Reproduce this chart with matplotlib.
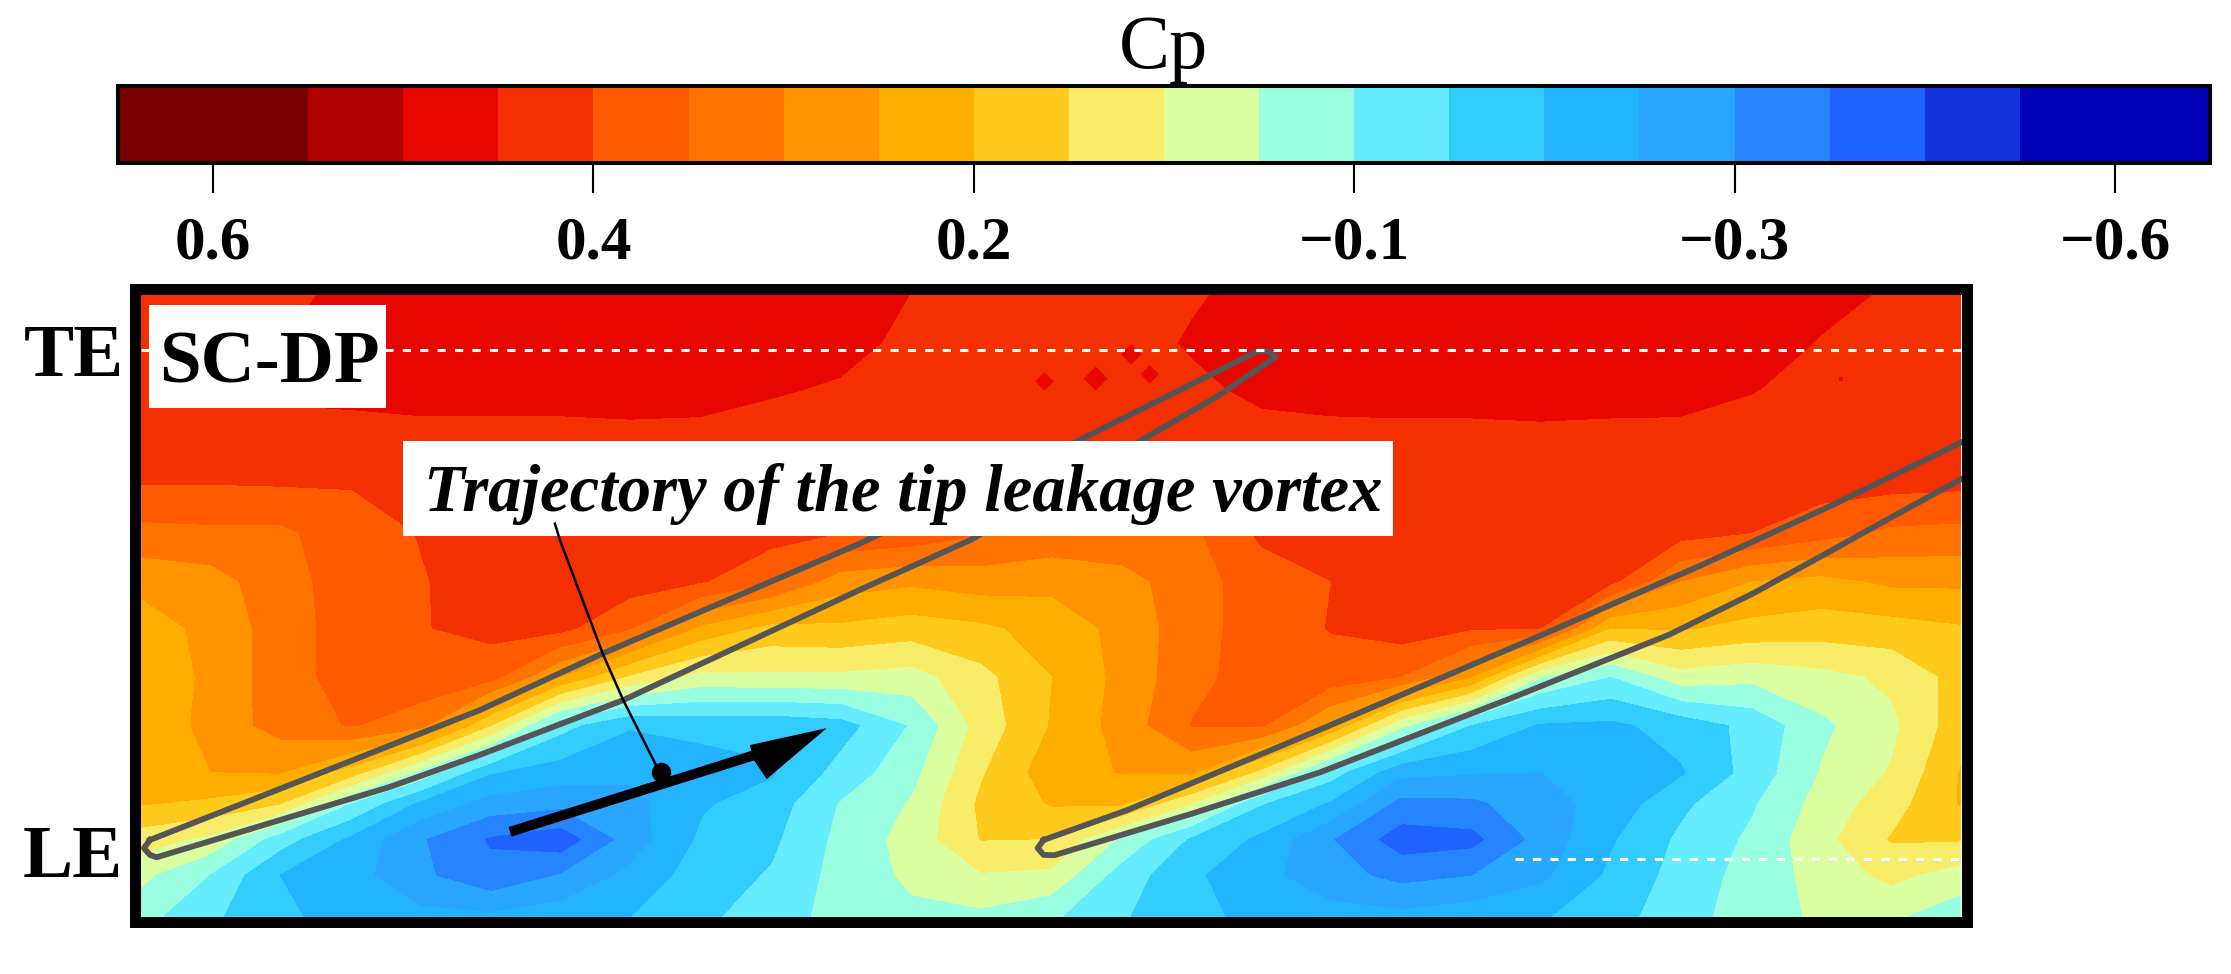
import matplotlib
matplotlib.use('Agg')
import matplotlib.pyplot as plt
from matplotlib.patches import Rectangle
import numpy as np

plt.rcParams['font.family'] = ['Liberation Serif', 'DejaVu Serif']

W, H = 2231, 974

# colour scale, positions along the bar (first and last band are double width)
band_edges = [0, 2, 3, 4, 5, 6, 7, 8, 9, 10, 11, 12, 13, 14, 15, 16, 17, 18, 19, 20, 22]
band_colors = ['#7a0000', '#b00000', '#e80600', '#f53000', '#ff5a00', '#ff7400', '#ff9300',
               '#ffae00', '#ffca1c', '#f8ec68', '#d9ffa0', '#99ffe0', '#66ecff', '#33ccff',
               '#24b4ff', '#29a6ff', '#2684ff', '#1f62ff', '#1232dc', '#0000b8']
tick_pos = [1, 5, 9, 13, 17, 21]
tick_labels = ['0.6', '0.4', '0.2', '\u22120.1', '\u22120.3', '\u22120.6']

# field, each value is a position on the colour bar
x_nodes = [99, 148, 197, 247, 296, 345, 394, 443, 493, 542, 591, 640, 689, 739, 788, 837, 886,
           935, 985, 1034, 1083, 1132, 1181, 1231, 1280, 1329, 1378]
y_nodes = [207, 241, 274, 308, 341, 375, 409, 442, 476, 510, 543, 565, 590, 615, 644]
columns = [
    [4.2, 4.3, 4.4, 4.6, 5.0, 6.3, 7.7, 8.5, 9.0, 8.9, 8.6, 8.9, 10.5, 11.7, 12.6],
    [4.3, 4.4, 4.4, 4.5, 5.0, 6.2, 7.4, 7.7, 7.7, 7.6, 8.0, 9.2, 11.2, 13.0, 13.8],
    [4.2, 4.0, 3.8, 4.4, 4.95, 6.2, 6.4, 6.5, 6.5, 6.6, 7.9, 9.9, 13.5, 15.0, 14.8],
    [3.8, 3.3, 3.7, 4.4, 4.95, 5.4, 5.5, 5.5, 5.5, 5.9, 9.4, 13.0, 15.2, 15.6, 15.4],
    [3.5, 3.3, 3.5, 4.4, 4.6, 4.95, 5.05, 5.05, 5.3, 6.6, 12.2, 15.2, 16.9, 16.8, 15.7],
    [3.4, 3.3, 3.5, 4.4, 4.5, 4.6, 4.6, 4.7, 5.6, 9.9, 14.9, 16.4, 18.1, 17.7, 15.8],
    [3.4, 3.3, 3.5, 4.4, 4.4, 4.4, 4.5, 4.7, 8.0, 13.6, 15.5, 16.7, 18.6, 16.9, 15.4],
    [3.4, 3.3, 3.5, 4.3, 4.3, 4.3, 4.5, 5.9, 10.1, 14.9, 15.8, 16.3, 16.5, 15.7, 15.0],
    [3.4, 3.4, 3.6, 4.3, 4.3, 4.4, 4.9, 8.2, 11.3, 14.6, 15.6, 15.1, 14.8, 14.5, 14.2],
    [3.4, 3.4, 3.9, 4.4, 4.4, 4.6, 5.8, 9.3, 11.2, 14.7, 15.1, 14.5, 14.2, 13.9, 13.5],
    [3.5, 3.7, 4.1, 4.4, 4.6, 5.0, 7.5, 9.2, 11.2, 14.4, 13.6, 12.9, 12.7, 12.6, 12.6],
    [4.0, 4.2, 4.3, 4.4, 4.7, 5.3, 7.8, 9.5, 11.4, 12.9, 12.3, 11.9, 11.6, 11.8, 12.2],
    [4.3, 4.3, 4.4, 4.5, 4.8, 5.9, 7.5, 9.2, 10.3, 10.6, 10.1, 9.8, 9.95, 11.05, 12.2],
    [4.4, 4.4, 4.5, 4.6, 4.8, 6.3, 7.7, 8.6, 9.0, 8.9, 8.4, 8.9, 10.0, 11.2, 12.8],
    [4.4, 4.4, 4.4, 4.5, 4.7, 6.2, 7.4, 7.7, 7.7, 7.6, 7.95, 8.8, 12.1, 13.4, 13.9],
    [4.1, 3.9, 4.2, 4.4, 4.6, 6.2, 6.4, 6.4, 6.3, 5.95, 7.8, 10.9, 14.1, 14.8, 14.6],
    [3.7, 3.5, 3.8, 4.3, 4.4, 4.8, 5.5, 5.5, 5.5, 5.8, 10.2, 13.9, 15.2, 15.7, 15.4],
    [3.5, 3.3, 3.5, 4.4, 4.4, 4.5, 5.0, 4.95, 5.4, 8.0, 13.5, 15.1, 16.9, 16.6, 15.6],
    [3.4, 3.3, 3.4, 4.4, 4.3, 4.4, 4.4, 4.5, 6.0, 11.7, 15.7, 17.3, 18.5, 17.3, 15.7],
    [3.4, 3.3, 3.4, 4.4, 4.3, 4.3, 4.4, 4.9, 7.9, 14.0, 15.9, 17.2, 18.3, 17.0, 15.4],
    [3.4, 3.3, 3.4, 4.3, 4.3, 4.3, 4.4, 5.0, 11.9, 15.1, 16.0, 16.4, 16.6, 16.2, 15.1],
    [3.4, 3.3, 3.4, 4.4, 4.3, 4.4, 4.7, 9.0, 13.0, 15.2, 15.7, 15.6, 15.1, 14.8, 14.4],
    [3.4, 3.4, 3.6, 4.3, 4.4, 4.6, 7.0, 8.9, 11.4, 14.6, 15.1, 14.2, 13.8, 13.6, 13.4],
    [3.5, 3.5, 3.95, 4.4, 4.5, 5.0, 8.0, 9.3, 11.7, 13.7, 13.6, 13.1, 12.8, 12.6, 12.5],
    [3.7, 4.05, 4.3, 4.4, 4.6, 5.6, 8.3, 9.5, 11.3, 12.2, 11.9, 11.6, 11.3, 11.6, 11.8],
    [4.1, 4.2, 4.3, 4.4, 4.7, 6.2, 7.8, 9.4, 10.8, 11.2, 10.9, 10.4, 9.9, 10.7, 11.8],
    [4.2, 4.2, 4.3, 4.4, 4.8, 6.3, 7.8, 9.1, 9.6, 9.4, 8.9, 8.9, 9.9, 11.4, 12.6],
]

# blade outlines
blade1_x = [105.4, 213, 337.3, 424, 602, 757, 866.8, 883, 890, 896.8, 855, 801, 683, 604, 438,
            337, 274, 110, 105.4, 101.2, 105.4]
blade1_y = [590.3, 548, 499, 459, 383, 310, 255.3, 247, 246.4, 250.7, 278.8, 310, 379, 414.6,
            492, 530.6, 553, 602.5, 600.8, 596, 590.3]
blade2_x = [733.4, 793, 927, 1084, 1196, 1285.5, 1385, 1385, 1330, 1285, 1232, 1173, 1061, 927,
            837, 741, 733.4, 729.2, 733.4]
blade2_y = [590.3, 569, 513, 446, 397, 356, 307.6, 333, 363, 388, 417, 446, 491, 543, 572, 601,
            600.8, 596, 590.3]

# little red spots near the trailing edge
spot_x = [734, 770, 795, 808]
spot_y = [268, 266, 249, 263]
spot_size = [90, 150, 110, 90]

leader_x = [390, 393.5, 424, 438, 460.3, 464]
leader_y = [368, 379.5, 460.3, 492, 536.3, 542]

shaft_x = [358.4, 529]
shaft_y = [584.6, 531]
head_x = [581, 527, 529, 538.8]
head_y = [511.7, 523.6, 533, 547.5]


def px_box(l, t, r, b):
    return [l / W, 1 - b / H, (r - l) / W, (b - t) / H]


fig = plt.figure(figsize=(W / 100, H / 100), dpi=100)
ax = fig.add_axes(px_box(135, 288.5, 1967, 921.5))
cax = fig.add_axes(px_box(118, 86, 2210, 163))

cp_pos = np.array(columns).T
cf = ax.contourf(x_nodes, y_nodes, cp_pos, levels=band_edges, colors=band_colors, zorder=1)
ax.set_xlim(94.9, 1382.3)
ax.set_ylim(647.6, 202.7)
ax.set_xticks([])
ax.set_yticks([])
for s in ax.spines.values():
    s.set_linewidth(7.9)
    s.set_zorder(10)

ax.scatter(spot_x, spot_y, s=spot_size, marker='D', color=band_colors[2], linewidths=0, zorder=2)
ax.scatter([1293.5], [266], s=8, marker='s', color=band_colors[2], linewidths=0, zorder=2)

ax.plot(blade1_x, blade1_y, color='#555555', lw=4.2, solid_joinstyle='round', zorder=3)
ax.plot(blade2_x, blade2_y, color='#555555', lw=4.2, solid_joinstyle='round', zorder=3)

# TE and LE stations
ax.plot([99, 1378], [246, 246], color='white', lw=2.2, ls=(0, (2.7, 3.0)), zorder=3)
ax.plot([1065, 1378], [604, 604], color='white', lw=2.2, ls=(0, (2.7, 3.0)), zorder=3)

ax.add_patch(Rectangle((104.5, 214), 166.5, 73, fc='white', ec='none', zorder=4))
ax.add_patch(Rectangle((283, 310), 696, 67, fc='white', ec='none', zorder=4))
ax.text(189.5, 269, 'SC-DP', fontsize=54, fontweight='bold', ha='center', va='baseline', zorder=5)
ax.text(635, 359, 'Trajectory of the tip leakage vortex', fontsize=48, fontweight='bold',
        fontstyle='italic', ha='center', va='baseline', zorder=5)

ax.plot(leader_x, leader_y, color='black', lw=1.8, zorder=6)
ax.plot([464.3], [542.3], marker='o', ms=13, color='black', zorder=6)
ax.plot(shaft_x, shaft_y, color='black', lw=7.2, solid_capstyle='butt', zorder=6)
ax.fill(head_x, head_y, color='black', lw=0, zorder=6)

ax.text(52, 264, 'TE', fontsize=54, fontweight='bold', ha='center', va='baseline', clip_on=False)
ax.text(51, 616, 'LE', fontsize=54, fontweight='bold', ha='center', va='baseline', clip_on=False)

cb = fig.colorbar(cf, cax=cax, orientation='horizontal', spacing='proportional', ticks=tick_pos)
cb.ax.set_xticklabels(tick_labels, fontsize=44, fontweight='bold')
cb.ax.tick_params(axis='x', length=21.5, width=1.5, pad=16, color='black')
cb.ax.minorticks_off()
cb.outline.set_linewidth(2.9)
cb.dividers.set_visible(False)
cax.set_title('Cp', fontsize=55, pad=13)

fig.savefig('out.png', dpi=100)
